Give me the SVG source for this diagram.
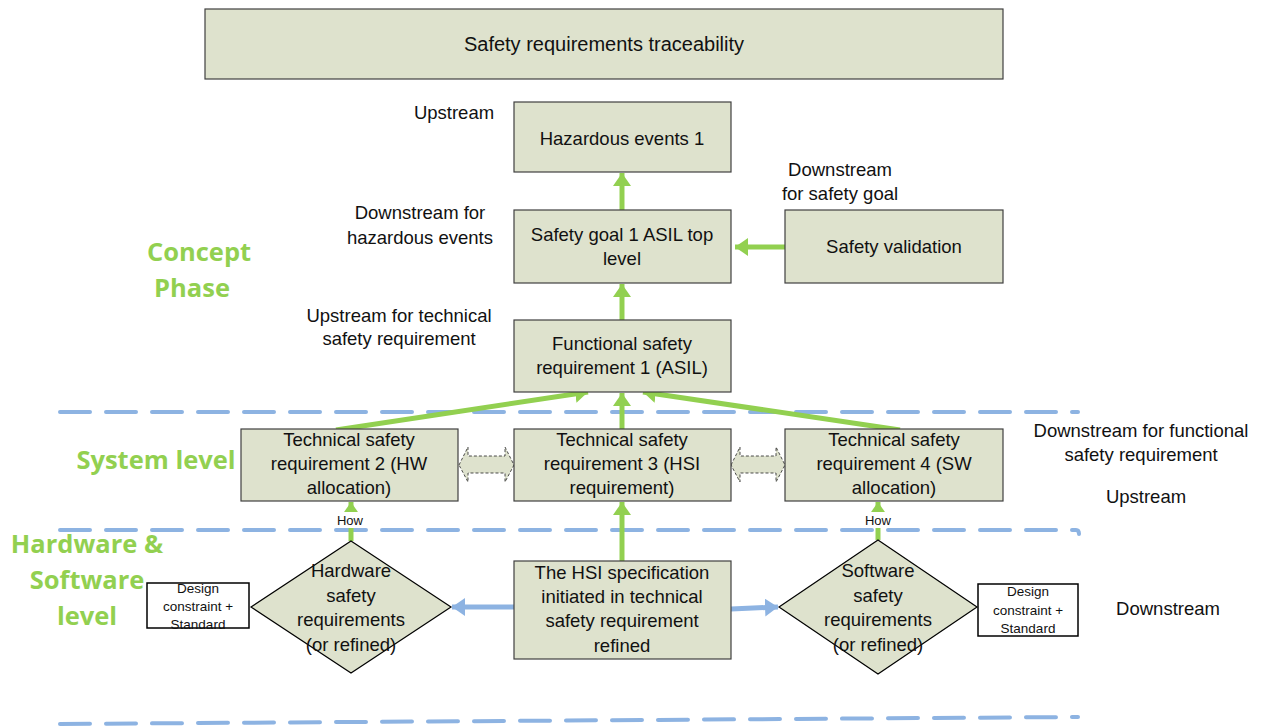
<svg xmlns="http://www.w3.org/2000/svg" width="1270" height="727" viewBox="0 0 1270 727">
<defs>
<style>
.box{fill:#dee2cd;stroke:#404040;stroke-width:1.2}
.wbox{fill:#ffffff;stroke:#000000;stroke-width:1.5}
.t{font-family:"Liberation Sans",Arial,sans-serif;font-size:18.5px;fill:#111;text-anchor:middle}
.tt{font-family:"Liberation Sans",Arial,sans-serif;font-size:20px;fill:#111;text-anchor:middle}
.ts{font-family:"Liberation Sans",Arial,sans-serif;font-size:13.5px;fill:#111;text-anchor:middle}
.th{font-family:"Liberation Sans",Arial,sans-serif;font-size:13px;fill:#111;text-anchor:middle}
.ph{font-family:"Open Sans","Liberation Sans",sans-serif;font-size:25.5px;font-weight:bold;fill:#92d050;text-anchor:middle}
.g{stroke:#92d050;stroke-width:5;fill:none;marker-end:url(#ga)}
.b{stroke:#8db3e2;stroke-width:5;fill:none;marker-end:url(#ba)}
.d{stroke:#8db3e2;stroke-width:4;fill:none;stroke-dasharray:30 16;stroke-linecap:round}
.da{fill:#dee2cd;stroke:#222;stroke-width:0.8;stroke-dasharray:3 2}
</style>
<marker id="ga" markerUnits="userSpaceOnUse" markerWidth="16" markerHeight="18" refX="13" refY="9" orient="auto">
<path d="M0,0 L13,9 L0,18 z" fill="#92d050"/>
</marker>
<marker id="ba" markerUnits="userSpaceOnUse" markerWidth="16" markerHeight="18" refX="13" refY="9" orient="auto">
<path d="M0,0 L13,9 L0,18 z" fill="#8db3e2"/>
</marker>
</defs>

<g id="phase-lines">
<line class="d" x1="60" y1="412" x2="1078" y2="412"/>
<path class="d" d="M60,530 L1076,530 Q1079,530 1079,534"/>
<line class="d" x1="60" y1="724" x2="1078" y2="717"/>
</g>

<g id="phase-labels">
<text class="ph" x="199" y="261">Concept</text>
<text class="ph" x="192" y="297">Phase</text>
<text class="ph" x="156" y="469">System level</text>
<text class="ph" x="87" y="553">Hardware &amp;</text>
<text class="ph" x="87" y="589">Software</text>
<text class="ph" x="87" y="625">level</text>
</g>

<g id="annotations">
<text class="t" x="454" y="119">Upstream</text>
<text class="t" x="420" y="219">Downstream for</text>
<text class="t" x="420" y="244">hazardous events</text>
<text class="t" x="399" y="322">Upstream for technical</text>
<text class="t" x="399" y="345">safety requirement</text>
<text class="t" x="840" y="176">Downstream</text>
<text class="t" x="840" y="200">for safety goal</text>
<text class="t" x="1141" y="437">Downstream  for functional</text>
<text class="t" x="1141" y="461">safety requirement</text>
<text class="t" x="1146" y="503">Upstream</text>
<text class="t" x="1168" y="615">Downstream</text>
</g>

<g id="connectors">
<line class="g" x1="622" y1="210" x2="622" y2="173"/>
<line class="g" x1="622" y1="320" x2="622" y2="284"/>
<line class="g" x1="785" y1="247" x2="735" y2="247"/>
<line class="g" x1="336" y1="430" x2="588" y2="392"/>
<line class="g" x1="622" y1="429" x2="622" y2="393"/>
<line class="g" x1="900" y1="430" x2="643" y2="392"/>
<line class="g" x1="622" y1="561" x2="622" y2="502"/>
<line class="g" x1="351" y1="541" x2="351" y2="502"/>
<line class="g" x1="878" y1="540" x2="878" y2="502"/>
<line class="b" x1="514" y1="607" x2="452" y2="607"/>
<line class="b" x1="731" y1="609" x2="778" y2="607"/>
<path class="da" d="M459,465 L468,447 L468,456 L505,456 L505,447 L514,465 L505,482 L505,473 L468,473 L468,482 Z"/>
<path class="da" d="M731,465 L740,447 L740,456 L776,456 L776,447 L785,465 L776,482 L776,473 L740,473 L740,482 Z"/>
<rect x="333" y="512" width="34" height="16" fill="#ffffff"/>
<text class="th" x="350" y="525">How</text>
<rect x="861" y="512" width="34" height="16" fill="#ffffff"/>
<text class="th" x="878" y="525">How</text>
</g>

<g id="title">
<rect class="box" x="205" y="9" width="798" height="70"/>
<text class="tt" x="604" y="51">Safety requirements traceability</text>
</g>

<g id="hazardous-events">
<rect class="box" x="514" y="102" width="217" height="70"/>
<text class="t" x="622" y="145">Hazardous events 1</text>
</g>

<g id="safety-goal">
<rect class="box" x="514" y="210" width="217" height="73"/>
<text class="t" x="622" y="241">Safety goal 1 ASIL top</text>
<text class="t" x="622" y="265">level</text>
</g>

<g id="safety-validation">
<rect class="box" x="785" y="210" width="218" height="73"/>
<text class="t" x="894" y="253">Safety validation</text>
</g>

<g id="functional-safety-req">
<rect class="box" x="514" y="320" width="217" height="72"/>
<text class="t" x="622" y="350">Functional safety</text>
<text class="t" x="622" y="374">requirement 1 (ASIL)</text>
</g>

<g id="tsr2">
<rect class="box" x="241" y="429" width="217" height="72"/>
<text class="t" x="349" y="446">Technical safety</text>
<text class="t" x="349" y="470">requirement 2 (HW</text>
<text class="t" x="349" y="494">allocation)</text>
</g>

<g id="tsr3">
<rect class="box" x="514" y="429" width="217" height="72"/>
<text class="t" x="622" y="446">Technical safety</text>
<text class="t" x="622" y="470">requirement 3 (HSI</text>
<text class="t" x="622" y="494">requirement)</text>
</g>

<g id="tsr4">
<rect class="box" x="785" y="429" width="218" height="72"/>
<text class="t" x="894" y="446">Technical safety</text>
<text class="t" x="894" y="470">requirement 4 (SW</text>
<text class="t" x="894" y="494">allocation)</text>
</g>

<g id="hsi-spec">
<rect class="box" x="514" y="561" width="217" height="98"/>
<text class="t" x="622" y="579">The HSI specification</text>
<text class="t" x="622" y="603">initiated in technical</text>
<text class="t" x="622" y="627">safety requirement</text>
<text class="t" x="622" y="652">refined</text>
</g>

<g id="hw-safety-req">
<polygon class="box" points="351,541 451,607 351,673 251,607" style="stroke:#000"/>
<text class="t" x="351" y="577">Hardware</text>
<text class="t" x="351" y="602">safety</text>
<text class="t" x="351" y="626">requirements</text>
<text class="t" x="351" y="651">(or refined)</text>
</g>

<g id="sw-safety-req">
<polygon class="box" points="878,540 977,607 878,674 779,607" style="stroke:#000"/>
<text class="t" x="878" y="577">Software</text>
<text class="t" x="878" y="602">safety</text>
<text class="t" x="878" y="626">requirements</text>
<text class="t" x="878" y="651">(or refined)</text>
</g>

<g id="design-constraint-hw">
<rect class="wbox" x="147" y="583" width="102" height="45"/>
<text class="ts" x="198" y="593">Design</text>
<text class="ts" x="198" y="611">constraint +</text>
<text class="ts" x="198" y="629">Standard</text>
</g>

<g id="design-constraint-sw">
<rect class="wbox" x="978" y="584" width="100" height="52"/>
<text class="ts" x="1028" y="596">Design</text>
<text class="ts" x="1028" y="615">constraint +</text>
<text class="ts" x="1028" y="633">Standard</text>
</g>
</svg>
